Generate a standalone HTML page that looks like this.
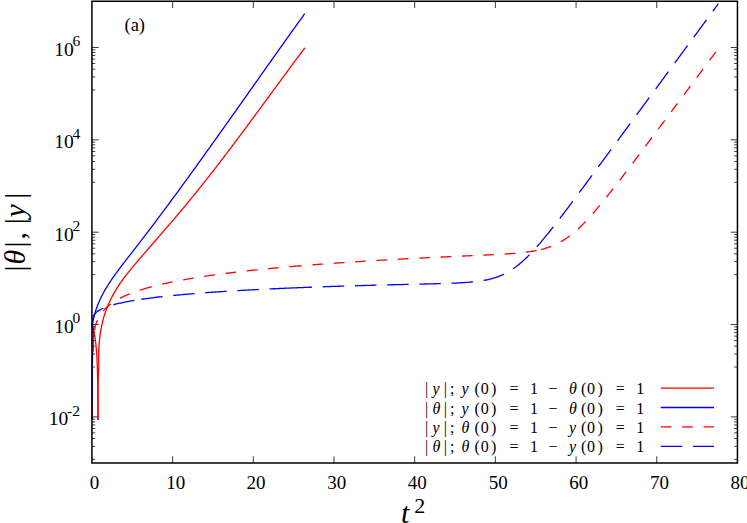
<!DOCTYPE html>
<html><head><meta charset="utf-8"><title>plot</title>
<style>html,body{margin:0;padding:0;background:#fff;overflow:hidden}svg{display:block}text{font-family:"Liberation Serif",serif;fill:#000}</style>
</head><body>
<svg width="747" height="523" viewBox="0 0 747 523">
<rect width="747" height="523" fill="#fff"/>
<path d="M91.92 459.39h3.3M737.45 459.39h-3.3M91.92 446.35h3.3M737.45 446.35h-3.3M91.92 438.51h3.3M737.45 438.51h-3.3M91.92 432.89h3.3M737.45 432.89h-3.3M91.92 428.5h3.3M737.45 428.5h-3.3M91.92 424.91h3.3M737.45 424.91h-3.3M91.92 421.86h3.3M737.45 421.86h-3.3M91.92 419.21h3.3M737.45 419.21h-3.3M91.92 367.04h3.3M737.45 367.04h-3.3M91.92 354h3.3M737.45 354h-3.3M91.92 346.16h3.3M737.45 346.16h-3.3M91.92 340.54h3.3M737.45 340.54h-3.3M91.92 336.15h3.3M737.45 336.15h-3.3M91.92 332.56h3.3M737.45 332.56h-3.3M91.92 329.51h3.3M737.45 329.51h-3.3M91.92 326.86h3.3M737.45 326.86h-3.3M91.92 274.69h3.3M737.45 274.69h-3.3M91.92 261.65h3.3M737.45 261.65h-3.3M91.92 253.81h3.3M737.45 253.81h-3.3M91.92 248.19h3.3M737.45 248.19h-3.3M91.92 243.8h3.3M737.45 243.8h-3.3M91.92 240.21h3.3M737.45 240.21h-3.3M91.92 237.16h3.3M737.45 237.16h-3.3M91.92 234.51h3.3M737.45 234.51h-3.3M91.92 182.34h3.3M737.45 182.34h-3.3M91.92 169.3h3.3M737.45 169.3h-3.3M91.92 161.46h3.3M737.45 161.46h-3.3M91.92 155.84h3.3M737.45 155.84h-3.3M91.92 151.45h3.3M737.45 151.45h-3.3M91.92 147.86h3.3M737.45 147.86h-3.3M91.92 144.81h3.3M737.45 144.81h-3.3M91.92 142.16h3.3M737.45 142.16h-3.3M91.92 89.99h3.3M737.45 89.99h-3.3M91.92 76.95h3.3M737.45 76.95h-3.3M91.92 69.11h3.3M737.45 69.11h-3.3M91.92 63.49h3.3M737.45 63.49h-3.3M91.92 59.1h3.3M737.45 59.1h-3.3M91.92 55.51h3.3M737.45 55.51h-3.3M91.92 52.46h3.3M737.45 52.46h-3.3M91.92 49.81h3.3M737.45 49.81h-3.3" stroke="#000" stroke-width="0.75" fill="none"/>
<path d="M172.61 463.05v-6.7M172.61 1.3v6.7M253.3 463.05v-6.7M253.3 1.3v6.7M333.99 463.05v-6.7M333.99 1.3v6.7M414.69 463.05v-6.7M414.69 1.3v6.7M495.38 463.05v-6.7M495.38 1.3v6.7M576.07 463.05v-6.7M576.07 1.3v6.7M656.76 463.05v-6.7M656.76 1.3v6.7M91.92 416.88h6.7M737.45 416.88h-6.7M91.92 324.53h6.7M737.45 324.53h-6.7M91.92 232.18h6.7M737.45 232.18h-6.7M91.92 139.83h6.7M737.45 139.83h-6.7M91.92 47.48h6.7M737.45 47.48h-6.7" stroke="#000" stroke-width="0.78" fill="none"/>
<g fill="none" stroke-width="1.3" stroke-linecap="butt" stroke-linejoin="round">
<path d="M92.13 324.3L92.59 325.92L93.01 327.54L93.4 329.17L93.76 330.79L94.09 332.41L94.4 334.03L94.68 335.65L94.94 337.28L95.18 338.9L95.4 340.52L95.6 342.14L95.79 343.76L95.97 345.39L96.13 347.01L96.28 348.63L96.41 350.25L96.54 351.87L96.65 353.5L96.76 355.12L96.86 356.74L96.95 358.36L97.03 359.98L97.11 361.61L97.18 363.23L97.25 364.85L97.31 366.47L97.37 368.09L97.42 369.72L97.47 371.34L97.51 372.96L97.55 374.58L97.59 376.21L97.62 377.83L97.65 379.45L97.68 381.07L97.71 382.69L97.74 384.32L97.76 385.94L97.78 387.56L97.8 389.18L97.82 390.8L97.83 392.43L97.85 394.05L97.86 395.67L97.88 397.29L97.89 398.91L97.9 400.54L97.91 402.16L97.92 403.78L97.93 405.4L97.94 407.02L97.94 408.65L97.95 410.27L97.96 411.89L97.96 413.51L97.97 415.13L97.97 416.76L97.98 418.38L97.98 420" stroke="#ff0000"/>
<path d="M98 420L98.05 400L98.15 380L98.85 366.13L98.79 364.35L98.74 362.57L98.71 360.79L98.69 359.01L98.69 357.23L98.7 355.44L98.73 353.66L98.77 351.87L98.83 350.09L98.91 348.31L99.01 346.52L99.12 344.74L99.26 342.96L99.41 341.19L99.58 339.42L99.77 337.65L99.99 335.89L100.22 334.13L100.48 332.37L100.76 330.62L101.06 328.88L101.39 327.15L101.74 325.42L102.12 323.7L102.52 321.98L102.94 320.28L103.4 318.58L103.87 316.89L104.38 315.22L104.92 313.55L105.48 311.89L106.07 310.25L106.68 308.61L107.32 306.99L107.99 305.37L108.68 303.77L109.4 302.18L110.14 300.6L110.91 299.02L111.7 297.46L112.51 295.91L113.34 294.38L114.2 292.85L115.08 291.33L115.97 289.82L116.89 288.33L117.83 286.85L118.79 285.37L119.77 283.91L120.77 282.46L121.78 281.02L122.81 279.59L123.85 278.17L124.91 276.75L125.99 275.35L127.07 273.95L128.17 272.56L129.28 271.18L130.4 269.8L131.52 268.43L132.65 267.06L133.79 265.7L134.94 264.34L136.09 262.99L137.25 261.63L138.4 260.29L139.56 258.94L140.72 257.59L141.88 256.25L143.04 254.91L144.2 253.57L145.36 252.23L146.52 250.89L147.68 249.55L148.84 248.21L150 246.87L151.16 245.54L152.32 244.2L153.48 242.87L154.64 241.53L155.79 240.2L156.95 238.86L158.11 237.53L159.27 236.19L160.42 234.86L161.58 233.53L162.73 232.19L163.88 230.86L165.04 229.52L166.19 228.19L167.34 226.85L168.49 225.51L169.63 224.18L170.78 222.84L171.93 221.5L173.07 220.16L174.21 218.82L175.36 217.48L176.5 216.14L177.63 214.79L178.77 213.45L179.91 212.1L181.04 210.76L182.17 209.41L183.3 208.06L184.43 206.71L185.56 205.35L186.68 204L187.8 202.64L188.92 201.28L190.04 199.92L191.16 198.56L192.27 197.19L193.39 195.83L194.5 194.46L195.61 193.09L196.71 191.72L197.82 190.35L198.92 188.97L200.03 187.6L201.13 186.22L202.22 184.84L203.32 183.46L204.42 182.08L205.51 180.7L206.6 179.32L207.7 177.93L208.78 176.54L209.87 175.16L210.96 173.77L212.04 172.38L213.13 170.98L214.21 169.59L215.29 168.2L216.37 166.8L217.45 165.4L218.53 164.01L219.6 162.61L220.68 161.21L221.75 159.81L222.82 158.41L223.89 157L224.96 155.6L226.03 154.19L227.1 152.79L228.17 151.38L229.23 149.97L230.3 148.56L231.36 147.16L232.42 145.75L233.49 144.33L234.55 142.92L235.61 141.51L236.67 140.1L237.73 138.68L238.78 137.27L239.84 135.85L240.9 134.44L241.95 133.02L243.01 131.61L244.06 130.19L245.11 128.77L246.17 127.35L247.22 125.93L248.27 124.51L249.32 123.09L250.37 121.67L251.42 120.25L252.47 118.83L253.52 117.41L254.57 115.99L255.61 114.57L256.66 113.14L257.71 111.72L258.76 110.3L259.8 108.88L260.85 107.45L261.9 106.03L262.94 104.61L263.99 103.18L265.03 101.76L266.08 100.34L267.12 98.91L268.17 97.49L269.21 96.07L270.26 94.64L271.3 93.22L272.35 91.8L273.39 90.37L274.44 88.95L275.48 87.53L276.53 86.1L277.58 84.68L278.62 83.26L279.67 81.84L280.71 80.42L281.76 78.99L282.81 77.57L283.85 76.15L284.9 74.73L285.95 73.31L286.99 71.89L288.04 70.47L289.09 69.05L290.14 67.64L291.19 66.22L292.24 64.8L293.29 63.39L294.34 61.97L295.39 60.55L296.44 59.14L297.49 57.73L298.55 56.31L299.6 54.9L300.65 53.49L301.71 52.08L302.77 50.67L303.82 49.26L304.88 47.85" stroke="#ff0000"/>
<path d="M92.3 420V365L92.7 352L93.3 341" stroke="#0000ff"/>
<path d="M93.1 341L93.1 330L92.59 323.59L92.92 321.66L93.3 319.74L93.71 317.86L94.17 315.99L94.66 314.14L95.19 312.31L95.76 310.5L96.36 308.7L97 306.93L97.67 305.17L98.37 303.43L99.11 301.71L99.87 300L100.66 298.3L101.48 296.63L102.33 294.96L103.21 293.31L104.1 291.67L105.02 290.04L105.97 288.42L106.93 286.82L107.92 285.23L108.92 283.64L109.95 282.07L110.99 280.5L112.04 278.94L113.12 277.39L114.2 275.85L115.3 274.32L116.41 272.79L117.53 271.26L118.66 269.74L119.8 268.23L120.95 266.72L122.1 265.21L123.26 263.71L124.43 262.2L125.59 260.7L126.76 259.2L127.93 257.7L129.1 256.2L130.27 254.7L131.44 253.2L132.61 251.7L133.77 250.2L134.94 248.7L136.1 247.19L137.26 245.69L138.42 244.18L139.58 242.68L140.74 241.17L141.89 239.66L143.05 238.16L144.2 236.65L145.35 235.14L146.5 233.63L147.65 232.11L148.8 230.6L149.95 229.09L151.09 227.58L152.24 226.06L153.38 224.55L154.52 223.03L155.66 221.52L156.8 220L157.94 218.48L159.08 216.96L160.21 215.44L161.35 213.92L162.48 212.4L163.62 210.88L164.75 209.36L165.88 207.84L167.01 206.32L168.14 204.79L169.26 203.27L170.39 201.75L171.52 200.22L172.64 198.7L173.77 197.17L174.89 195.64L176.01 194.12L177.13 192.59L178.25 191.06L179.37 189.53L180.49 188L181.61 186.47L182.72 184.94L183.84 183.41L184.95 181.88L186.07 180.35L187.18 178.81L188.29 177.28L189.41 175.75L190.52 174.22L191.63 172.68L192.74 171.15L193.85 169.61L194.96 168.08L196.06 166.54L197.17 165L198.28 163.47L199.38 161.93L200.49 160.39L201.59 158.86L202.7 157.32L203.8 155.78L204.9 154.24L206 152.7L207.11 151.16L208.21 149.62L209.31 148.08L210.41 146.54L211.51 145L212.61 143.46L213.71 141.92L214.8 140.38L215.9 138.84L217 137.29L218.1 135.75L219.19 134.21L220.29 132.67L221.39 131.12L222.48 129.58L223.58 128.03L224.67 126.49L225.77 124.95L226.86 123.4L227.96 121.86L229.05 120.31L230.14 118.77L231.24 117.22L232.33 115.68L233.42 114.13L234.52 112.59L235.61 111.04L236.7 109.5L237.8 107.95L238.89 106.4L239.98 104.86L241.07 103.31L242.16 101.77L243.26 100.22L244.35 98.67L245.44 97.13L246.53 95.58L247.62 94.03L248.72 92.49L249.81 90.94L250.9 89.39L251.99 87.84L253.08 86.3L254.18 84.75L255.27 83.2L256.36 81.66L257.45 80.11L258.55 78.56L259.64 77.02L260.73 75.47L261.82 73.92L262.92 72.37L264.01 70.83L265.1 69.28L266.2 67.73L267.29 66.19L268.39 64.64L269.48 63.09L270.57 61.55L271.67 60L272.77 58.46L273.86 56.91L274.96 55.36L276.05 53.82L277.15 52.27L278.25 50.73L279.34 49.18L280.44 47.64L281.54 46.09L282.64 44.55L283.74 43L284.84 41.46L285.94 39.91L287.04 38.37L288.14 36.82L289.24 35.28L290.34 33.74L291.45 32.19L292.55 30.65L293.65 29.11L294.76 27.56L295.86 26.02L296.97 24.48L298.08 22.94L299.18 21.4L300.29 19.86L301.4 18.31L302.51 16.77L303.62 15.23L304.73 13.69" stroke="#0000ff"/>
<path d="M92.3 417V405" stroke="#ff0000"/>
<path d="M92.96 352.8L93.01 351.89L93.08 350.17L93.11 348.45L93.14 346.72L93.17 344.98L93.21 343.23L93.25 341.47L93.3 339.71L93.36 337.93L93.43 336.13L93.64 334.33L93.93 332.51L94.26 330.67L94.66 328.82L95.11 326.95L95.65 325.07L96.27 323.16L97 321.23L97.86 319.28L98.85 317.31L100.02 315.31L101.05 313.75L102.08 312.34L103.12 311.06L104.15 309.88L105.18 308.79L106.21 307.77L107.24 306.82L108.28 305.92L109.31 305.07L110.34 304.27L111.37 303.5L112.4 302.78L113.44 302.08L114.47 301.41L115.5 300.77L116.53 300.16L117.56 299.56L118.6 298.99L119.63 298.44L120.66 297.9L121.69 297.38L122.73 296.88L123.76 296.39L124.79 295.92L125.82 295.46L126.85 295.01L127.89 294.57L128.92 294.15L129.95 293.73L130.98 293.33L132.01 292.93L133.05 292.55L134.08 292.17L135.11 291.8L136.14 291.43L137.17 291.08L138.21 290.73L139.24 290.39L140.27 290.06L141.3 289.73L141.5 289.67" stroke="#ff0000" stroke-dasharray="10.7 10.7" stroke-dashoffset="20.4"/>
<path d="M141.5 289.67L142.33 289.4L143.37 289.09L144.4 288.78L145.43 288.47L146.46 288.17L147.49 287.88L148.53 287.59L149.56 287.3L150.59 287.02L151.62 286.74L152.65 286.47L153.69 286.2L154.72 285.94L155.75 285.68L156.78 285.42L157.81 285.17L158.85 284.92L159.88 284.67L160.91 284.43L161.94 284.19L162.97 283.95L164.01 283.72L165.04 283.49L166.07 283.26L167.1 283.04L168.13 282.82L169.17 282.6L170.2 282.38L171.23 282.17L172.26 281.95L173.29 281.75L174.33 281.54L175.36 281.33L176.39 281.13L177.42 280.93L178.45 280.73L179.49 280.54L180.52 280.35L181.55 280.15L182.58 279.97L183.61 279.78L184.65 279.59L185.68 279.41L186.71 279.23L187.74 279.05L188.77 278.87L189.81 278.69L190.84 278.52L191.87 278.34L192.9 278.17L193.93 278L194.97 277.83L196 277.67L197.03 277.5L198.06 277.34L199.09 277.18L200.13 277.01L201.16 276.86L202.19 276.7L203.22 276.54L204.25 276.38L205.29 276.23L206.32 276.08L207.35 275.93L208.38 275.78L209.41 275.63L210.45 275.48L211.48 275.33L212.51 275.19L213.54 275.04L214.57 274.9L215.61 274.76L216.64 274.62L217.67 274.48L218.7 274.34L219.73 274.2L220.77 274.06L221.8 273.93L222.83 273.79L223.86 273.66L224.89 273.53L225.93 273.4L226.96 273.26L227.99 273.13L229.02 273.01L230.06 272.88L231.09 272.75L232.12 272.62L233.15 272.5L234.18 272.37L235.22 272.25L236.25 272.13L237.28 272.01L238.31 271.89L239.34 271.76L240.38 271.65L241.41 271.53L242.44 271.41L243.47 271.29L244.5 271.18L245.54 271.06L246.57 270.94L247.6 270.83L248.63 270.72L249.66 270.6L250.7 270.49L251.73 270.38L252.76 270.27L253.79 270.16L254.82 270.05L255.86 269.94L256.89 269.84L257.92 269.73L258.95 269.62L259.98 269.52L261.02 269.41L262.05 269.31L263.08 269.2L264.11 269.1L265.14 268.99L266.18 268.89L267.21 268.79L268.24 268.69L269.27 268.59L270.3 268.49L271.34 268.39L272.37 268.29L273.4 268.19L274.43 268.1L275.46 268L276.5 267.9L277.53 267.81L278.56 267.71L279.59 267.61L280.62 267.52L281.66 267.43L282.69 267.33L283.72 267.24L284.75 267.15L285.78 267.06L286.82 266.96L287.85 266.87L288.88 266.78L289.91 266.69L290.94 266.6L291.1 266.59" stroke="#ff0000" stroke-dasharray="10.7 10.7" stroke-dashoffset="0"/>
<path d="M291.1 266.59L291.98 266.51L293.01 266.42L294.04 266.34L295.07 266.25L296.1 266.16L297.14 266.07L298.17 265.99L299.2 265.9L300.23 265.82L301.26 265.73L302.3 265.65L303.33 265.56L304.36 265.48L305.39 265.39L306.42 265.31L307.46 265.23L308.49 265.15L309.52 265.06L310.55 264.98L311.58 264.9L312.62 264.82L313.65 264.74L314.68 264.66L315.71 264.58L316.74 264.5L317.78 264.42L318.81 264.35L319.84 264.27L320.87 264.19L321.9 264.11L322.94 264.04L323.97 263.96L325 263.88L326.03 263.81L327.06 263.73L328.1 263.66L329.13 263.58L330.16 263.51L331.19 263.43L332.22 263.36L333.26 263.29L334.29 263.21L335.32 263.14L336.35 263.07L337.38 262.99L338.42 262.92L339.45 262.85L340.48 262.78L341.51 262.71L342.55 262.64L343.58 262.57L344.61 262.5L345.64 262.43L346.67 262.36L347.71 262.29L348.74 262.22L349.77 262.15L350.8 262.08L351.83 262.02L352.87 261.95L353.9 261.88L354.93 261.81L355.96 261.75L356.99 261.68L358.03 261.62L359.06 261.55L360.09 261.48L361.12 261.42L362.15 261.35L363.19 261.29L364.22 261.22L365.25 261.16L366.28 261.1L367.31 261.03L368.35 260.97L369.38 260.9L370.41 260.84L371.44 260.78L372.47 260.72L373.51 260.65L374.54 260.59L375.57 260.53L376.6 260.47L377.63 260.41L378.67 260.35L379.7 260.29L380.73 260.22L381.76 260.16L382.79 260.1L383.83 260.04L384.86 259.99L385.89 259.93L386.92 259.87L387.95 259.81L388.99 259.75L390.02 259.69L391.05 259.63L392.08 259.57L393.11 259.52L394.15 259.46L395.18 259.4L396.21 259.34L397.24 259.29L398.27 259.23L399.31 259.17L400.34 259.12L401.37 259.06L402.4 259.01L403.43 258.95L404.47 258.9L405.5 258.84L406.53 258.78L407.56 258.73L408.59 258.68L409.63 258.62L410.66 258.57L411.69 258.51L412.72 258.46L413.75 258.41L414.79 258.35L415.82 258.3L416.85 258.25L417.88 258.19L418.91 258.14L419.95 258.09L420.98 258.04L422.01 257.98L423.04 257.93L424.07 257.88L425.11 257.83L426.14 257.78L427.17 257.72L428.2 257.67L429.23 257.62L430.27 257.57L431.3 257.52L432.33 257.47L433.36 257.42L434.39 257.37L435.43 257.32L436.46 257.27L437.49 257.22L438.52 257.17L439.55 257.12L440.59 257.07L441.62 257.02L442.65 256.98L443.68 256.93L444.71 256.88L445.75 256.83L446.78 256.78L447.81 256.73L448.84 256.69L449.88 256.64L450.91 256.59L451.94 256.54L452.97 256.49L454 256.45L455.04 256.4L456.07 256.35L457.1 256.31L458.13 256.26L459.16 256.21L460.2 256.16L461.23 256.12L462.26 256.07L463.29 256.02L464.32 255.98L465.36 255.93L466.39 255.88L467.42 255.84L468.45 255.79L469.48 255.74L470.52 255.7L471.55 255.65L472.58 255.6L473.61 255.56L474.64 255.51L475.68 255.46L476.71 255.42L477.74 255.37L478.77 255.32L479.8 255.27L480.84 255.23L481.87 255.18L482.9 255.13L483.93 255.08L484.96 255.03L486 254.98L487.03 254.93L488.06 254.89L489.09 254.84L490.12 254.78L491.16 254.73L492.19 254.68L493.22 254.63L494.25 254.58L495.28 254.52L496.32 254.47L497.35 254.42L498.38 254.36L499.41 254.3L500.44 254.25L501.48 254.19L502.51 254.13L503.54 254.07L504.57 254L505.6 253.94L506.64 253.87L507.67 253.81L508.7 253.74L509.73 253.67L510.76 253.59L511.8 253.52L512.83 253.44L513.86 253.36L514.89 253.28L515.92 253.2L516.96 253.11L517.99 253.02L519.02 252.92L520.05 252.82L521.08 252.72L522.12 252.61L523.15 252.5L524.18 252.39L525.21 252.27L526.24 252.14L527.28 252.01L528.31 251.87L529.34 251.73L530.37 251.58L531.4 251.42L532.44 251.26L533.47 251.08L534.5 250.9L535.53 250.71L536.56 250.51L537.6 250.3L538.63 250.08L539.66 249.85L540.69 249.61L541 249.54" stroke="#ff0000" stroke-dasharray="10.7 10.7" stroke-dashoffset="0"/>
<path d="M541 249.54L541.72 249.36L542.76 249.09L543.79 248.81L544.82 248.52L545.85 248.21L546.88 247.89L547.92 247.56L548.95 247.2L549.98 246.83L551.01 246.45L552.04 246.04L553.08 245.62L554.11 245.18L555.14 244.72L556.17 244.24L557.21 243.74L558.24 243.21L559.27 242.67L560.3 242.11L561.33 241.52L562.37 240.91L563.4 240.28L564.43 239.63L565.46 238.96L566.49 238.26L567.53 237.54L568.56 236.8L569.59 236.03L570.62 235.24L571.65 234.43L572.69 233.6L573.72 232.75L574.75 231.87L575.78 230.97L576.81 230.06L577.85 229.12L578.88 228.16L579.91 227.18L580.94 226.19L581.97 225.17L583.01 224.14L584.04 223.09L585.07 222.03L586.1 220.95L587.13 219.85L588.17 218.74L589.2 217.61L590.23 216.47L591.26 215.32L592.29 214.15L593.33 212.97L594.36 211.78L595.39 210.58L596.42 209.37L597.45 208.15L598.49 206.92L599.52 205.68L600.55 204.43L601.58 203.18L602.61 201.92L603.65 200.65L604.68 199.37L605.71 198.09L606.74 196.8L607.77 195.5L608.81 194.2L609.84 192.89L610.87 191.58L611.9 190.27L612.93 188.95L613.97 187.63L615 186.3L616.03 184.97L617.06 183.63L618.09 182.3L619.13 180.96L620.16 179.62L621.19 178.27L622.22 176.92L623.25 175.57L624.29 174.22L625.32 172.87L626.35 171.51L627.38 170.15L628.41 168.79L629.45 167.43L630.48 166.07L631.51 164.71L632.54 163.34L633.57 161.98L634.61 160.61L635.64 159.24L636.67 157.87L637.7 156.5L638.73 155.13L639.77 153.76L640.8 152.38L641.83 151.01L642.86 149.64L643.89 148.26L644.93 146.89L645.96 145.51L646.99 144.14L648.02 142.76L649.05 141.38L650.09 140L651.12 138.63L652.15 137.25L653.18 135.87L654.21 134.49L655.25 133.11L656.28 131.73L657.31 130.35L658.34 128.97L659.37 127.59L660.41 126.21L661.44 124.83L662.47 123.45L663.5 122.07L664.54 120.69L665.57 119.31L666.6 117.93L667.63 116.54L668.66 115.16L669.7 113.78L670.73 112.4L671.76 111.02L672.79 109.63L673.82 108.25L674.86 106.87L675.89 105.49L676.92 104.11L677.95 102.72L678.98 101.34L680.02 99.96L681.05 98.58L682.08 97.19L683.11 95.81L684.14 94.43L685.18 93.04L686.21 91.66L687.24 90.28L688.27 88.9L689.3 87.51L690.34 86.13L691.37 84.75L692.4 83.36L693.43 81.98L694.46 80.6L695.5 79.21L696.53 77.83L697.56 76.45L698.59 75.07L699.62 73.68L700.66 72.3L701.69 70.92L702.72 69.53L703.75 68.15L704.78 66.77L705.82 65.38L706.85 64L707.88 62.62L708.91 61.23L709.94 59.85L710.98 58.47L712.01 57.08L713.04 55.7L714.07 54.32L715.1 52.93L716.14 51.55L717.17 50.17L717.8 49.32" stroke="#ff0000" stroke-dasharray="10.7 10.7" stroke-dashoffset="0"/>
<path d="M92.36 327.33L92.36 327.12L92.36 326.91L92.36 326.7L92.36 326.48L92.36 326.27L92.36 326.05L92.36 325.84L92.37 325.62L92.37 325.4L92.37 325.19L92.37 324.97L92.38 324.74L92.38 324.52L92.38 324.3L92.39 324.07L92.39 323.85L92.4 323.62L92.4 323.39L92.41 323.15L92.42 322.92L92.43 322.68L92.43 322.44L92.45 322.2L92.46 321.96L92.47 321.71L92.49 321.46L92.5 321.21L92.52 320.95L92.54 320.69L92.57 320.43L92.59 320.16L92.62 319.89L92.66 319.61L92.7 319.33L92.74 319.05L92.79 318.76L92.84 318.46L92.9 318.16L92.97 317.86L93.05 317.54L93.13 317.23L93.23 316.9L93.34 316.57L93.47 316.22L93.6 315.87L93.76 315.52L93.93 315.15L94.18 314.77L94.45 314.38L94.76 313.99L95.11 313.58L95.51 313.16L95.95 312.73L96.44 312.28L97 311.82L97.63 311.35L98.34 310.86L99.13 310.36L100.02 309.84L101.05 309.29L102.08 308.78L103.12 308.31L104.15 307.87L105.18 307.46L106.21 307.07L107.24 306.69L108.28 306.34L109.31 306L110.34 305.68L111.37 305.37L112.4 305.07L113.44 304.78L114.47 304.5L115.5 304.23L116.53 303.97L117.56 303.72L118.6 303.48L119.63 303.24L120.66 303.01L121.69 302.78L122.73 302.56L123.76 302.35L124.79 302.14L125.82 301.93L126.85 301.73L127.89 301.53L128.92 301.34L129.95 301.16L130.98 300.97L132.01 300.79L133.05 300.61L134.08 300.44L135.11 300.27L136.14 300.1L137.17 299.94L138.21 299.78L139.24 299.62L140.27 299.46L141.2 299.32" stroke="#0000ff" stroke-dasharray="21.5 10.7" stroke-dashoffset="29.5"/>
<path d="M141.2 299.32L141.3 299.31L142.33 299.16L143.37 299.01L144.4 298.86L145.43 298.72L146.46 298.58L147.49 298.44L148.53 298.3L149.56 298.16L150.59 298.03L151.62 297.9L152.65 297.77L153.69 297.64L154.72 297.51L155.75 297.39L156.78 297.26L157.81 297.14L158.85 297.02L159.88 296.9L160.91 296.78L161.94 296.67L162.97 296.55L164.01 296.44L165.04 296.33L166.07 296.22L167.1 296.11L168.13 296L169.17 295.89L170.2 295.79L171.23 295.68L172.26 295.58L173.29 295.48L174.33 295.37L175.36 295.27L176.39 295.17L177.42 295.08L178.45 294.98L179.49 294.88L180.52 294.79L181.55 294.69L182.58 294.6L183.61 294.51L184.65 294.42L185.68 294.33L186.71 294.24L187.74 294.15L188.77 294.06L189.81 293.97L190.84 293.88L191.87 293.8L192.9 293.71L193.93 293.63L194.97 293.55L196 293.46L197.03 293.38L198.06 293.3L199.09 293.22L200.13 293.14L201.16 293.06L202.19 292.98L203.22 292.9L204.25 292.83L205.29 292.75L206.32 292.67L207.35 292.6L208.38 292.52L209.41 292.45L210.45 292.38L211.48 292.3L212.51 292.23L213.54 292.16L214.57 292.09L215.61 292.02L216.64 291.95L217.67 291.88L218.7 291.81L219.73 291.74L220.77 291.67L221.8 291.6L222.83 291.54L223.86 291.47L224.89 291.4L225.93 291.34L226.96 291.27L227.99 291.21L229.02 291.15L230.06 291.08L231.09 291.02L232.12 290.96L233.15 290.89L234.18 290.83L235.22 290.77L236.25 290.71L237.28 290.65L238.31 290.59L239.34 290.53L240.38 290.47L241.41 290.41L242.44 290.35L243.47 290.3L244.5 290.24L245.54 290.18L246.57 290.12L247.6 290.07L248.63 290.01L249.66 289.96L250.7 289.9L251.73 289.85L252.76 289.79L253.79 289.74L254.82 289.68L255.86 289.63L256.89 289.58L257.92 289.53L258.95 289.47L259.98 289.42L261.02 289.37L262.05 289.32L263.08 289.27L264.11 289.22L265.14 289.17L266.18 289.12L267.21 289.07L268.24 289.02L269.27 288.97L270.3 288.92L271.34 288.87L272.37 288.82L273.4 288.77L274.43 288.73L275.46 288.68L276.5 288.63L277.53 288.59L278.56 288.54L279.59 288.49L280.62 288.45L281.66 288.4L282.69 288.36L283.72 288.31L284.75 288.27L285.78 288.22L286.82 288.18L287.85 288.13L288.88 288.09L289.91 288.05L290.6 288.02" stroke="#0000ff" stroke-dasharray="21.5 10.7" stroke-dashoffset="0"/>
<path d="M290.6 288.02L290.94 288L291.98 287.96L293.01 287.92L294.04 287.88L295.07 287.83L296.1 287.79L297.14 287.75L298.17 287.71L299.2 287.67L300.23 287.63L301.26 287.59L302.3 287.55L303.33 287.5L304.36 287.46L305.39 287.43L306.42 287.39L307.46 287.35L308.49 287.31L309.52 287.27L310.55 287.23L311.58 287.19L312.62 287.15L313.65 287.12L314.68 287.08L315.71 287.04L316.74 287L317.78 286.97L318.81 286.93L319.84 286.89L320.87 286.86L321.9 286.82L322.94 286.78L323.97 286.75L325 286.71L326.03 286.68L327.06 286.64L328.1 286.61L329.13 286.57L330.16 286.54L331.19 286.5L332.22 286.47L333.26 286.43L334.29 286.4L335.32 286.37L336.35 286.33L337.38 286.3L338.42 286.27L339.45 286.23L340.48 286.2L341.51 286.17L342.55 286.14L343.58 286.1L344.61 286.07L345.64 286.04L346.67 286.01L347.71 285.98L348.74 285.95L349.77 285.91L350.8 285.88L351.83 285.85L352.87 285.82L353.9 285.79L354.93 285.76L355.96 285.73L356.99 285.7L358.03 285.67L359.06 285.64L360.09 285.61L361.12 285.58L362.15 285.55L363.19 285.52L364.22 285.5L365.25 285.47L366.28 285.44L367.31 285.41L368.35 285.38L369.38 285.35L370.41 285.32L371.44 285.3L372.47 285.27L373.51 285.24L374.54 285.21L375.57 285.19L376.6 285.16L377.63 285.13L378.67 285.11L379.7 285.08L380.73 285.05L381.76 285.03L382.79 285L383.83 284.97L384.86 284.95L385.89 284.92L386.92 284.9L387.95 284.87L388.99 284.84L390.02 284.82L391.05 284.79L392.08 284.77L393.11 284.74L394.15 284.72L395.18 284.69L396.21 284.67L397.24 284.64L398.27 284.62L399.31 284.59L400.34 284.57L401.37 284.54L402.4 284.52L403.43 284.5L404.47 284.47L405.5 284.45L406.53 284.42L407.56 284.4L408.59 284.37L409.63 284.35L410.66 284.33L411.69 284.3L412.72 284.28L413.75 284.25L414.79 284.23L415.82 284.21L416.85 284.18L417.88 284.16L418.91 284.13L419.95 284.11L420.98 284.09L422.01 284.06L423.04 284.04L424.07 284.01L425.11 283.99L426.14 283.96L427.17 283.94L428.2 283.91L429.23 283.89L430.27 283.86L431.3 283.84L432.33 283.81L433.36 283.78L434.39 283.76L435.43 283.73L436.46 283.7L437.49 283.68L438.52 283.65L439.55 283.62L440.59 283.59L441.62 283.56L442.65 283.53L443.68 283.5L444.71 283.46L445.75 283.43L446.78 283.4L447.81 283.36L448.84 283.33L449.88 283.29L450.91 283.25L451.94 283.21L452.97 283.17L454 283.13L455.04 283.08L456.07 283.04L457.1 282.99L458.13 282.94L459.16 282.89L460.2 282.83L461.23 282.77L462.26 282.71L463.29 282.65L464.32 282.59L465.36 282.52L466.39 282.44L467.42 282.37L468.45 282.29L469.48 282.2L470.52 282.12L471.55 282.02L472.58 281.92L473.61 281.82L474.64 281.71L475.68 281.59L476.71 281.47L477.74 281.34L478.77 281.2L479.8 281.06L480.84 280.91L481.87 280.74L482.9 280.57L483.93 280.39L484.96 280.2L486 280L487.03 279.79L488.06 279.56L489.09 279.32L490.12 279.07L491.16 278.81L492.19 278.53L493.22 278.24L494.25 277.93L495.28 277.6L496.32 277.26L497.35 276.9L498.38 276.52L499.41 276.12L500.44 275.7L501.48 275.26L502.51 274.81L503.54 274.33L504.57 273.83L505.6 273.3L506.64 272.76L507.67 272.19L508.7 271.6L509.73 270.98L510.76 270.34L511.8 269.68L512.83 269L513.86 268.28L514.89 267.55L515.92 266.79L516.96 266.01L517.99 265.2L519.02 264.37L520.05 263.52L521.08 262.64L522.12 261.75L523.15 260.83L524.18 259.88L525.21 258.92L526.24 257.94L527.28 256.93L528.31 255.91L529.34 254.87L530.37 253.81L531.4 252.73L532.44 251.64L533.47 250.53L534.5 249.4L535.53 248.26L536.56 247.1L537.6 245.93L538.63 244.75L539.66 243.55L539.7 243.51" stroke="#0000ff" stroke-dasharray="21.5 10.7" stroke-dashoffset="0"/>
<path d="M539.7 243.51L540.69 242.35L541.72 241.13L542.76 239.9L543.79 238.66L544.82 237.41L545.85 236.15L546.88 234.88L547.92 233.61L548.95 232.32L549.98 231.03L551.01 229.73L552.04 228.43L553.08 227.12L554.11 225.8L555.14 224.48L556.17 223.15L557.21 221.82L558.24 220.48L559.27 219.14L560.3 217.8L561.33 216.45L562.37 215.09L563.4 213.74L564.43 212.38L565.46 211.02L566.49 209.65L567.53 208.29L568.56 206.92L569.59 205.55L570.62 204.17L571.65 202.8L572.69 201.42L573.72 200.04L574.75 198.66L575.78 197.28L576.81 195.89L577.85 194.51L578.88 193.12L579.91 191.73L580.94 190.35L581.97 188.96L583.01 187.57L584.04 186.18L585.07 184.78L586.1 183.39L587.13 182L588.17 180.6L589.2 179.21L590.23 177.81L591.26 176.42L592.29 175.02L593.33 173.62L594.36 172.23L595.39 170.83L596.42 169.43L597.45 168.03L598.49 166.63L599.52 165.23L600.55 163.83L601.58 162.43L602.61 161.03L603.65 159.63L604.68 158.23L605.71 156.83L606.74 155.43L607.77 154.03L608.81 152.63L609.84 151.23L610.87 149.83L611.9 148.43L612.93 147.02L613.97 145.62L615 144.22L616.03 142.82L617.06 141.42L618.09 140.01L619.13 138.61L620.16 137.21L621.19 135.81L622.22 134.4L623.25 133L624.29 131.6L625.32 130.2L626.35 128.79L627.38 127.39L628.41 125.99L629.45 124.59L630.48 123.18L631.51 121.78L632.54 120.38L633.57 118.97L634.61 117.57L635.64 116.17L636.67 114.76L637.7 113.36L638.73 111.96L639.77 110.55L640.8 109.15L641.83 107.75L642.86 106.35L643.89 104.94L644.93 103.54L645.96 102.14L646.99 100.73L648.02 99.33L649.05 97.93L650.09 96.52L651.12 95.12L652.15 93.72L653.18 92.31L654.21 90.91L655.25 89.51L656.28 88.1L657.31 86.7L658.34 85.3L659.37 83.89L660.41 82.49L661.44 81.09L662.47 79.68L663.5 78.28L664.54 76.87L665.57 75.47L666.6 74.07L667.63 72.66L668.66 71.26L669.7 69.86L670.73 68.45L671.76 67.05L672.79 65.65L673.82 64.24L674.86 62.84L675.89 61.44L676.92 60.03L677.95 58.63L678.98 57.23L680.02 55.82L681.05 54.42L682.08 53.02L683.11 51.61L684.14 50.21L685.18 48.81L686.21 47.4L687.24 46L688.27 44.6L689.3 43.19L690.34 41.79L691.37 40.39L692.4 38.98L693.43 37.58L694.46 36.17L695.5 34.77L696.53 33.37L697.56 31.96L698.59 30.56L699.62 29.16L700.66 27.75L701.69 26.35L702.72 24.95L703.75 23.54L704.78 22.14L705.82 20.74L706.85 19.33L707.88 17.93L708.91 16.53L709.94 15.12L710.98 13.72L712.01 12.32L713.04 10.91L714.07 9.51L715.1 8.11L716.14 6.7L717.17 5.3L718.2 3.9L718.4 3.9" stroke="#0000ff" stroke-dasharray="21.5 10.7" stroke-dashoffset="0"/>
<path d="M660.75 388.1H714.0" stroke="#ff0000"/>
<path d="M660.75 407.5H714.0" stroke="#0000ff"/>
<path d="M660.75 426.9H714.0" stroke="#ff0000" stroke-dasharray="10.7 10.7"/>
<path d="M660.75 446.4H714.0" stroke="#0000ff" stroke-dasharray="21.5 10.7"/>
</g>
<path d="M91.92 1.3H737.45V463.05H91.92Z" fill="none" stroke="#000" stroke-width="1.5"/>
<g font-size="19" text-anchor="middle">
<text x="94.5" y="489">0</text>
<text x="175.7" y="489">10</text>
<text x="256" y="489">20</text>
<text x="336.7" y="489">30</text>
<text x="417.3" y="489">40</text>
<text x="498.2" y="489">50</text>
<text x="578.7" y="489">60</text>
<text x="659.5" y="489">70</text>
<text x="740" y="489">80</text>
</g>
<g font-size="19.5">
<text x="48.8" y="425.27">10</text>
<text x="54.2" y="332.93">10</text>
<text x="54.2" y="240.58">10</text>
<text x="54.2" y="148.23">10</text>
<text x="54.2" y="55.88">10</text>
</g>
<g font-size="15.5">
<text x="67" y="415.67">-2</text>
<text x="72.4" y="323.3">0</text>
<text x="72.4" y="230.98">2</text>
<text x="72.4" y="138.63">4</text>
<text x="72.4" y="46.3">6</text>
</g>
<text x="124.5" y="30.5" font-size="18.5">(a)</text>
<text x="401" y="523" font-size="30" font-style="italic">t</text>
<text x="414.2" y="512.9" font-size="22">2</text>
<g font-size="30">
<text transform="translate(25.2 271.5) rotate(-90)">|</text>
<text transform="translate(25.2 264.5) rotate(-90)" font-style="italic">θ</text>
<text transform="translate(25.2 247.4) rotate(-90)">|</text>
<text transform="translate(25.2 239.5) rotate(-90)">,</text>
<text transform="translate(25.2 224.3) rotate(-90)">|</text>
<text transform="translate(25.2 217.5) rotate(-90)" font-style="italic">y</text>
<text transform="translate(25.2 198.7) rotate(-90)">|</text>
</g>
<g font-size="16">
<text y="394.1" x="425 432.5 443.8 450 461.5 474.5 480.8 491 509.5 530 548.5 569 581 587 597.5 615.7 636.3">|<tspan font-style="italic">y</tspan>|;<tspan font-style="italic">y</tspan>(0)=1−<tspan font-style="italic">θ</tspan>(0)=1</text>
<text y="413.5" x="425 432.5 443.8 450 461.5 474.5 480.8 491 509.5 530 548.5 569 581 587 597.5 615.7 636.3">|<tspan font-style="italic">θ</tspan>|;<tspan font-style="italic">y</tspan>(0)=1−<tspan font-style="italic">θ</tspan>(0)=1</text>
<text y="432.9" x="425 432.5 443.8 450 461.5 474.5 480.8 491 509.5 530 548.5 569 581 587 597.5 615.7 636.3">|<tspan font-style="italic">y</tspan>|;<tspan font-style="italic">θ</tspan>(0)=1−<tspan font-style="italic">y</tspan>(0)=1</text>
<text y="452.3" x="425 432.5 443.8 450 461.5 474.5 480.8 491 509.5 530 548.5 569 581 587 597.5 615.7 636.3">|<tspan font-style="italic">θ</tspan>|;<tspan font-style="italic">θ</tspan>(0)=1−<tspan font-style="italic">y</tspan>(0)=1</text>
</g>
</svg>
</body></html>
